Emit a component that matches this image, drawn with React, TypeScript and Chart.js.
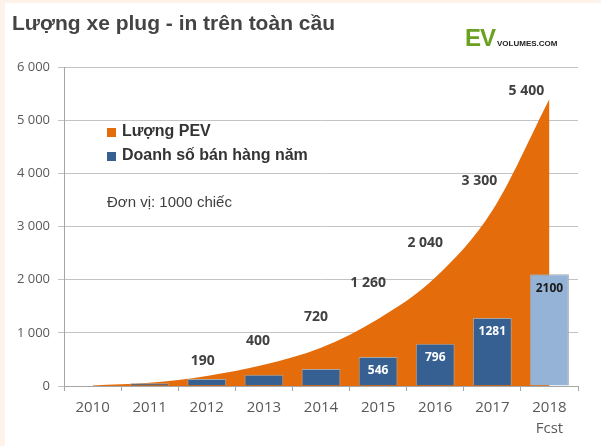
import { useEffect, useRef } from "react"
import { Chart, registerables, type Plugin } from "chart.js"
Chart.register(...registerables)

const YEARS = ["2010", "2011", "2012", "2013", "2014", "2015", "2016", "2017", ["2018", "Fcst"]]
// PEV stock (thousand units)
const PEV_STOCK = [10, 60, 190, 400, 720, 1260, 2040, 3300, 5400]
// annual sales (thousand units)
const ANNUAL_SALES = [0, 50, 130, 210, 320, 546, 796, 1281, 2100]
const STOCK_LABELED = [false, false, true, true, true, true, true, true, true]
const SALES_LABELED = [false, false, false, false, false, true, true, true, true]
const Y_TICKS = [0, 1000, 2000, 3000, 4000, 5000, 6000]

// label nudges (px) relative to the curve point
const STOCK_LABEL_NUDGE = [
  [0, 0], [0, 0], [-4, -15], [-6, -24], [-5, -31], [-10, -36], [-10, -35], [-13, -30], [-23, -8],
]

const ORANGE = "#e46c0a"
const DARK_BLUE = "#376092"
const LIGHT_BLUE = "#95b3d7"
const FONT = "'Open Sans', sans-serif"
const ARIAL = "'Liberation Sans', Arial, sans-serif"

const fmt = (v: number) => String(v).replace(/\B(?=(\d{3})+(?!\d))/g, " ")

const valueLabels: Plugin<"bar"> = {
  id: "valueLabels",
  afterDatasetsDraw(chart) {
    const { ctx } = chart
    const x = chart.scales.x
    const y = chart.scales.y
    ctx.save()
    ctx.textAlign = "center"
    ctx.textBaseline = "middle"
    PEV_STOCK.forEach((v, i) => {
      if (!STOCK_LABELED[i]) return
      const [dx, dy] = STOCK_LABEL_NUDGE[i]
      ctx.font = `bold 14px ${FONT}`
      ctx.fillStyle = "#404040"
      ctx.fillText(fmt(v), x.getPixelForValue(i) + dx, y.getPixelForValue(v) + dy)
    })
    ANNUAL_SALES.forEach((v, i) => {
      if (!SALES_LABELED[i]) return
      ctx.font = `bold 12px ${FONT}`
      ctx.fillStyle = i === ANNUAL_SALES.length - 1 ? "#1a1a1a" : "#ffffff"
      ctx.fillText(String(v), x.getPixelForValue(i), y.getPixelForValue(v) + 14)
    })
    ctx.restore()
  },
}

export default function App() {
  const canvasRef = useRef<HTMLCanvasElement>(null)

  useEffect(() => {
    document.body.style.margin = "0"
    const canvas = canvasRef.current
    if (!canvas) return
    const chart = new Chart(canvas, {
      type: "bar",
      data: {
        labels: YEARS,
        datasets: [
          {
            type: "bar",
            label: "Doanh số bán hàng năm",
            data: ANNUAL_SALES,
            backgroundColor: ANNUAL_SALES.map((_, i) => (i === ANNUAL_SALES.length - 1 ? LIGHT_BLUE : DARK_BLUE)),
            borderColor: "#a6a6a6",
            borderWidth: 1,
            barPercentage: 0.68,
            categoryPercentage: 1,
            order: 1,
          },
          {
            type: "line",
            label: "Lượng PEV",
            data: PEV_STOCK,
            backgroundColor: ORANGE,
            borderColor: ORANGE,
            borderWidth: 0,
            pointRadius: 0,
            fill: "origin",
            cubicInterpolationMode: "monotone",
            order: 2,
          } as any,
        ],
      },
      options: {
        responsive: false,
        animation: false,
        layout: { padding: { top: 67, right: 23, left: 0, bottom: 0 } },
        plugins: { legend: { display: false }, tooltip: { enabled: false } },
        scales: {
          x: {
            grid: { drawOnChartArea: false, color: "#a6a6a6", tickLength: 5, offset: true },
            border: { color: "#a6a6a6" },
            ticks: { color: "#595959", font: { family: FONT, size: 15, lineHeight: 1.4 }, padding: 6 },
            afterFit: (s) => { s.height = 60 },
          },
          y: {
            min: 0,
            max: 6000,
            afterBuildTicks: (s) => { s.ticks = Y_TICKS.map((value) => ({ value })) },
            grid: { color: "#c3c3c3", tickLength: 6 },
            border: { color: "#a6a6a6" },
            ticks: { color: "#595959", font: { family: FONT, size: 13 }, padding: 8, callback: (v) => fmt(Number(v)) },
            afterFit: (s) => { s.width = 64 },
          },
        },
      },
      plugins: [valueLabels],
    })
    return () => chart.destroy()
  }, [])

  const swatch = (c: string, top: number) => (
    <div style={{ position: "absolute", left: 107, top, width: 9, height: 9, background: c }} />
  )

  return (
    <div style={{ position: "relative", width: 601, height: 446, background: "#fdf3ea", overflow: "hidden" }}>
      <div style={{ position: "absolute", left: 5, top: 3, right: 0, bottom: 0, background: "#ffffff" }} />
      <canvas ref={canvasRef} width={601} height={446} style={{ position: "absolute", left: 0, top: 0 }} />
      <div style={{ position: "absolute", left: 12, top: 11, font: `bold 21px ${ARIAL}`, color: "#444444", whiteSpace: "nowrap" }}>
        Lượng xe plug - in trên toàn cầu
      </div>
      <div style={{ position: "absolute", left: 465, top: 24, whiteSpace: "nowrap", fontFamily: ARIAL }}>
        <span style={{ font: `bold 24px ${ARIAL}`, color: "#6aa121", letterSpacing: -1 }}>EV</span>
        <span style={{ font: `bold 8px ${ARIAL}`, color: "#222222", marginLeft: 2 }}>VOLUMES.COM</span>
      </div>
      {swatch(ORANGE, 128)}
      {swatch(DARK_BLUE, 152)}
      <div style={{ position: "absolute", left: 122, top: 122, font: `bold 16px ${ARIAL}`, color: "#333333", whiteSpace: "nowrap" }}>
        Lượng PEV
      </div>
      <div style={{ position: "absolute", left: 122, top: 146, font: `bold 16px ${ARIAL}`, color: "#333333", whiteSpace: "nowrap" }}>
        Doanh số bán hàng năm
      </div>
      <div style={{ position: "absolute", left: 107, top: 193, font: `15px ${ARIAL}`, color: "#404040", whiteSpace: "nowrap" }}>
        Đơn vị: 1000 chiếc
      </div>
    </div>
  )
}
